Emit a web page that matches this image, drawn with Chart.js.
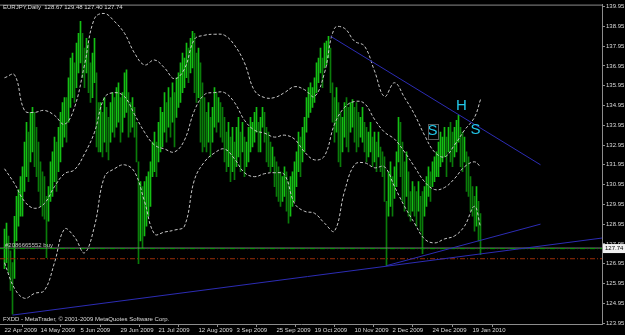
<!DOCTYPE html>
<html>
<head>
<meta charset="utf-8">
<script src="https://cdn.jsdelivr.net/npm/chart.js@4"></script>
<style>
  html, body { margin: 0; padding: 0; background: #000; }
  canvas { display: block; }
</style>
</head>
<body>
<canvas id="chart" width="625" height="335"></canvas>
<script>
// EURJPY daily bars (one entry per bar)
const highs = [
  128.7, 129.0, 128.35, 127.6, 127.0, 129.35, 130.35, 130.7, 131.35, 131.85,
  133.1, 134.1, 133.6, 134.6, 134.85, 134.6, 133.85, 133.1, 132.1, 131.6,
  131.35, 130.35, 130.85, 132.1, 132.6, 133.35, 133.1, 133.85, 134.6, 135.1,
  135.35, 135.35, 136.35, 137.35, 137.6, 137.1, 138.1, 138.6, 139.2, 138.6,
  137.85, 138.35, 138.1, 137.1, 137.6, 138.35, 136.6, 135.1, 135.1, 134.6,
  135.35, 134.85, 134.35, 135.1, 135.6, 135.35, 135.85, 136.1, 135.35, 135.6,
  136.6, 136.75, 135.6, 135.1, 135.35, 134.85, 134.1, 132.1, 131.1, 130.85,
  131.1, 131.35, 131.6, 132.1, 133.1, 133.6, 133.1, 134.1, 134.85, 134.6,
  135.6, 135.1, 135.85, 135.35, 136.1, 135.6, 136.35, 136.6, 137.1, 137.6,
  137.35, 138.1, 137.85, 138.35, 138.7, 138.6, 137.6, 137.85, 137.1, 136.1,
  135.35, 134.6, 135.1, 134.35, 134.85, 135.85, 135.6, 135.35, 135.1, 134.85,
  134.35, 133.6, 134.1, 133.35, 133.85, 133.1, 133.85, 134.35, 133.6, 134.1,
  133.35, 133.1, 133.85, 134.35, 134.1, 134.6, 134.85, 134.1, 134.35, 134.85,
  134.6, 133.85, 133.6, 133.1, 132.85, 132.35, 132.1, 131.85, 131.6, 131.35,
  131.85, 131.6, 131.1, 131.35, 131.6, 132.1, 132.6, 133.6, 133.35, 133.85,
  134.35, 135.35, 135.85, 136.1, 135.85, 136.35, 137.1, 137.35, 137.85, 137.35,
  138.1, 138.2, 138.45, 137.85, 136.1, 135.35, 135.85, 135.1, 134.6, 134.35,
  135.1, 135.35, 134.85, 135.1, 135.25, 134.85, 135.1, 134.6, 134.35, 134.85,
  134.1, 133.85, 133.6, 134.1, 133.35, 133.6, 133.1, 133.6, 132.85, 132.6,
  132.35, 130.1, 131.6, 132.1, 131.35, 131.85, 132.6, 134.35, 134.1, 133.1,
  132.1, 132.6, 131.6, 130.6, 131.1, 130.85, 130.6, 131.1, 130.35, 130.6,
  130.85, 131.35, 131.85, 131.6, 132.1, 132.35, 132.6, 133.1, 133.6, 133.35,
  133.85, 133.35, 133.85, 134.1, 133.6, 133.85, 134.2, 134.45, 133.85, 133.6,
  133.35, 132.6, 132.35, 131.35, 130.85, 130.35, 130.85, 130.1, 129.48
];
const lows = [
  126.7, 127.0, 126.5, 125.6, 124.4, 126.2, 128.1, 128.85, 129.35, 129.35,
  130.6, 131.35, 131.1, 132.1, 132.6, 131.85, 131.35, 130.6, 129.85, 129.35,
  129.2, 127.25, 129.1, 130.1, 130.35, 131.1, 130.6, 131.6, 132.1, 132.85,
  133.35, 133.1, 134.1, 134.85, 135.35, 135.1, 135.85, 136.6, 137.1, 136.35,
  135.85, 136.6, 135.6, 135.1, 135.35, 136.1, 132.85, 132.6, 132.6, 132.35,
  133.1, 132.6, 132.2, 133.1, 133.6, 133.35, 133.85, 134.1, 133.1, 133.6,
  134.35, 134.6, 133.35, 133.6, 133.85, 133.35, 132.1, 126.95, 128.1, 127.75,
  128.35, 128.85, 129.35, 129.85, 131.35, 131.6, 131.35, 132.1, 132.6, 132.85,
  133.6, 133.1, 133.85, 133.35, 134.1, 132.85, 134.35, 134.85, 135.1, 135.6,
  135.85, 136.35, 136.1, 136.6, 136.85, 135.6, 135.1, 135.35, 133.1, 132.6,
  132.85, 132.6, 133.1, 132.35, 133.1, 133.85, 133.6, 134.1, 133.35, 133.1,
  132.1, 131.6, 131.85, 131.1, 131.6, 131.2, 131.85, 132.35, 131.6, 132.6,
  131.35, 131.85, 132.1, 132.6, 132.85, 133.1, 133.6, 132.6, 132.6, 133.85,
  133.1, 132.1, 131.85, 131.6, 131.85, 130.85, 130.35, 130.1, 129.85, 130.1,
  130.35, 129.6, 129.0, 129.35, 129.85, 130.1, 130.85, 131.6, 131.35, 132.1,
  132.6, 133.6, 134.35, 134.6, 134.85, 135.1, 135.6, 136.1, 136.6, 135.85,
  136.85, 137.0, 137.35, 135.6, 134.1, 133.1, 133.6, 132.1, 131.85, 132.6,
  133.35, 132.85, 132.6, 133.6, 133.85, 133.1, 132.6, 132.85, 133.35, 133.1,
  132.6, 132.1, 132.35, 132.6, 131.85, 132.1, 131.6, 132.35, 131.6, 131.35,
  130.1, 126.85, 129.35, 129.85, 129.35, 130.25, 130.85, 132.1, 131.35, 130.1,
  129.6, 130.35, 129.35, 129.1, 129.6, 129.35, 128.85, 129.6, 128.6, 127.45,
  129.35, 129.85, 130.35, 130.1, 130.85, 131.1, 131.35, 131.35, 131.85, 132.1,
  132.35, 131.35, 132.6, 132.1, 131.85, 132.35, 132.6, 133.1, 131.85, 131.6,
  132.1, 130.6, 130.35, 129.6, 129.35, 128.6, 128.85, 128.1, 127.4
];

// bottom axis dates (bar index of each label)
const dateIdx = [0, 18, 38, 58, 77, 97, 116, 136, 155, 175, 194, 214, 234];
const dateLabels = ['22 Apr 2009', '14 May 2009', '5 Jun 2009', '29 Jun 2009', '21 Jul 2009',
  '12 Aug 2009', '3 Sep 2009', '25 Sep 2009', '19 Oct 2009', '10 Nov 2009',
  '2 Dec 2009', '24 Dec 2009', '19 Jan 2010'];
const priceTicks = [123.95, 124.95, 125.95, 126.95, 127.95, 128.95, 129.95, 130.95,
  131.95, 132.95, 133.95, 134.95, 135.95, 136.95, 137.95, 138.95, 139.95];

// Bollinger bands, sampled every 5 bars
const bandIdx = [0, 5, 10, 15, 20, 25, 30, 35, 40, 45, 50, 55, 60, 65, 70, 75, 80, 85, 90, 95,
  100, 105, 110, 115, 120, 125, 130, 135, 140, 145, 150, 155, 160, 165, 170, 175, 180, 185,
  190, 195, 200, 205, 210, 215, 220, 225, 230, 235, 238];
const bandUpper = [136.35, 136.5, 134.7, 134.6, 134.7, 134.45, 134.0, 134.85, 137.0, 139.35,
  139.6, 139.2, 138.6, 137.6, 137.0, 137.25, 136.85, 136.3, 136.8, 138.3,
  138.5, 138.55, 138.5, 138.0, 137.1, 135.7, 135.35, 135.35, 135.6, 135.9,
  135.75, 135.4, 136.6, 138.85, 138.85, 138.2, 137.95, 136.7, 135.4, 136.1,
  135.35, 134.5, 133.45, 132.6, 132.35, 132.95, 133.7, 134.35, 135.25];
const bandMiddle = [131.75, 131.0, 130.1, 129.75, 130.0, 130.85, 131.5, 131.7, 132.5, 133.6,
  135.35, 135.6, 135.4, 134.5, 133.6, 132.95, 132.75, 132.6, 133.2, 134.7,
  135.5, 135.6, 135.6, 135.1, 134.2, 133.7, 133.55, 133.35, 133.45, 133.25,
  132.6, 132.2, 132.4, 134.0, 134.85, 135.15, 135.05, 134.25, 133.6, 133.25,
  132.6, 131.85, 131.1, 130.7, 130.8, 131.25, 131.85, 132.1, 131.85];
const bandLower = [127.0, 125.7, 125.2, 125.45, 125.6, 127.0, 128.7, 128.3, 127.5, 128.85,
  131.35, 131.75, 131.95, 131.6, 130.1, 128.45, 128.55, 128.65, 128.85, 131.2,
  132.1, 132.55, 132.75, 132.25, 131.55, 131.35, 131.5, 131.55, 131.45, 130.0,
  129.6, 129.5, 129.0, 128.6, 130.6, 131.95, 132.05, 131.8, 131.85, 130.85,
  129.85, 129.0, 128.2, 128.0, 128.2, 128.35, 128.85, 129.85, 128.8];

// trend lines drawn on the chart: [barIndex, price] pairs
const trendLines = [
  [[163, 138.45], [268, 131.95]],
  [[4, 124.35], [299, 128.25]],
  [[191, 126.85], [268, 128.95]]
];

const bidPrice = 127.74;
const orderPrice = 127.71;
const stopPrice = 127.20;
const quote = ['128.67', '129.48', '127.40', '127.74'];
const marks = [
  { text: 'S', x: 214, y: 133.65, box: true },
  { text: 'H', x: 228.5, y: 134.95 },
  { text: 'S', x: 235.5, y: 133.7 }
];

const X_MIN = -2.25, X_MAX = 298.75;
const FONT = '"Liberation Sans", Arial, sans-serif';
const TXT = '#dcdcdc';
const AXIS = '#8c8c8c';

const barData = highs.map((h, i) => ({ x: i, y: [lows[i], h] }));
// brighter on rising bars, darker on falling ones
const barColors = highs.map((h, i) => {
  const mid = (h + lows[i]) / 2;
  const prev = i > 0 ? (highs[i - 1] + lows[i - 1]) / 2 : mid;
  return mid >= prev ? '#14bf14' : '#0a7c0a';
});
const series = vals => bandIdx.map((x, k) => ({ x: x, y: vals[k] }));
const level = p => [{ x: X_MIN, y: p }, { x: X_MAX, y: p }];

const lineDefaults = { type: 'line', borderWidth: 1, pointRadius: 0, fill: false };

const datasets = [
  { type: 'bar', data: barData, backgroundColor: barColors, borderWidth: 0,
    barThickness: 1, grouped: false, order: 10 },
  { ...lineDefaults, data: level(bidPrice), borderColor: '#7c7c7c', order: 7 },
  { ...lineDefaults, data: level(orderPrice), borderColor: '#00a000', borderDash: [5, 2, 1, 2], order: 6 },
  { ...lineDefaults, data: level(stopPrice), borderColor: '#9c2e08', borderDash: [5, 2, 1, 2], order: 6 },
  { ...lineDefaults, data: series(bandUpper), borderColor: '#c8c8c8', borderDash: [3, 2], tension: 0.4, order: 3 },
  { ...lineDefaults, data: series(bandMiddle), borderColor: '#c8c8c8', borderDash: [3, 2], tension: 0.4, order: 3 },
  { ...lineDefaults, data: series(bandLower), borderColor: '#c8c8c8', borderDash: [3, 2], tension: 0.4, order: 3 }
];
trendLines.forEach(seg => {
  datasets.push({ ...lineDefaults, data: seg.map(p => ({ x: p[0], y: p[1] })), borderColor: '#2c2cb4', order: 1 });
});

const overlay = {
  id: 'overlay',
  beforeDraw(chart) {
    const ctx = chart.ctx;
    ctx.save();
    ctx.fillStyle = '#000';
    ctx.fillRect(0, 0, chart.width, chart.height);
    ctx.restore();
  },
  afterDraw(chart) {
    const ctx = chart.ctx;
    const area = chart.chartArea;
    const xs = chart.scales.x, ys = chart.scales.y;
    ctx.save();
    // top frame
    ctx.strokeStyle = AXIS;
    ctx.lineWidth = 1;
    ctx.beginPath();
    ctx.moveTo(area.left, area.top + 0.5);
    ctx.lineTo(area.right, area.top + 0.5);
    ctx.stroke();

    ctx.font = '6px ' + FONT;
    ctx.textBaseline = 'middle';
    ctx.fillStyle = TXT;
    ctx.fillText('EURJPY,Daily  ' + quote.join(' '), 3, 7);
    ctx.fillText('FXDD - MetaTrader, \u00a9 2001-2009 MetaQuotes Software Corp.', 3, 319);
    ctx.fillStyle = '#c4c4c4';
    ctx.fillText('#2086665552 buy', 5, ys.getPixelForValue(orderPrice) - 3);

    // current price box on the axis
    const py = ys.getPixelForValue(bidPrice);
    ctx.fillStyle = '#f0f0f0';
    ctx.fillRect(area.right + 1, py - 4, 22, 9);
    ctx.fillStyle = '#000';
    ctx.fillText(bidPrice.toFixed(2), area.right + 3, py + 0.5);

    // pattern letters
    ctx.font = '15px ' + FONT;
    ctx.textAlign = 'center';
    ctx.fillStyle = '#22c8ea';
    marks.forEach(m => {
      const mx = xs.getPixelForValue(m.x), my = ys.getPixelForValue(m.y);
      ctx.fillText(m.text, mx, my);
      if (m.box) {
        ctx.strokeStyle = '#5a5a5a';
        ctx.strokeRect(Math.round(mx - 5) + 0.5, Math.round(my - 7) + 0.5, 10, 15);
      }
    });
    ctx.restore();
  }
};

new Chart(document.getElementById('chart'), {
  type: 'bar',
  data: { datasets: datasets },
  options: {
    responsive: false,
    animation: false,
    devicePixelRatio: 1,
    layout: { padding: { top: 1, left: 0, right: 0, bottom: 0 } },
    plugins: { legend: { display: false }, tooltip: { enabled: false } },
    scales: {
      x: {
        type: 'linear',
        min: X_MIN,
        max: X_MAX,
        offset: false,
        grid: { drawOnChartArea: false, drawTicks: true, tickLength: 3, color: AXIS },
        border: { color: AXIS },
        afterBuildTicks: s => { s.ticks = dateIdx.map(v => ({ value: v })); },
        afterFit: s => { s.height = 11; },
        ticks: {
          autoSkip: false, maxRotation: 0, align: 'start', padding: 0,
          color: TXT, font: { family: FONT, size: 6 },
          callback: (v, i) => dateLabels[i]
        }
      },
      y: {
        type: 'linear',
        position: 'right',
        min: 123.90,
        max: 140.05,
        grid: { drawOnChartArea: false, drawTicks: true, tickLength: 3, color: AXIS },
        border: { color: AXIS },
        afterBuildTicks: s => { s.ticks = priceTicks.map(v => ({ value: v })); },
        afterFit: s => { s.width = 23; },
        ticks: {
          padding: 1, crossAlign: 'near',
          color: TXT, font: { family: FONT, size: 6 },
          callback: v => v.toFixed(2)
        }
      }
    }
  },
  plugins: [overlay]
});
</script>
</body>
</html>
